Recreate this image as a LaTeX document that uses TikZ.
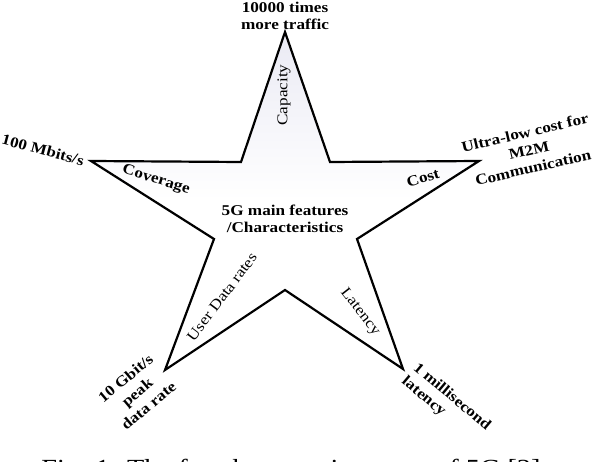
\documentclass[tikz,border=0pt]{standalone}
\usepackage{fontspec}
\setmainfont{Liberation Serif}[FakeStretch=1.15]
\begin{document}
\begin{tikzpicture}[x=1bp,y=-1bp,
  lbl/.style={font=\fontsize{15}{17}\selectfont\bfseries, inner sep=0pt, align=center},
  lblr/.style={font=\fontsize{15}{17}\selectfont, inner sep=0pt, align=center},
  starline/.style={line width=2.2bp, line join=miter, draw=black,
    top color={rgb,255:red,234;green,234;blue,244}, bottom color=white, middle color=white}]
\useasboundingbox (0,0) rectangle (598,462);
\clip (0,0) rectangle (598,462);
% star vertices
\coordinate (T)  at (285,32);
\coordinate (TR) at (330,162);
\coordinate (R)  at (479,161);
\coordinate (RI) at (357,239);
\coordinate (BR) at (403,369);
\coordinate (B)  at (285,290);
\coordinate (BL) at (165,370);
\coordinate (LI) at (214,239);
\coordinate (L)  at (91,161);
\coordinate (TL) at (241,162);
\draw[starline] (T) -- (TR) -- (R) -- (RI) -- (BR) -- (B) -- (BL) -- (LI) -- (L) -- (TL) -- cycle;
% inner labels
\node[lblr, rotate=90] (cap) at (284,95) {Capacity};
\node[lbl, rotate=-17] (cov) at (156,180) {Coverage};
\node[lbl, rotate=17] (cost) at (423,178) {Cost};
\node[lbl] (ctr) at (285,219) {5G main features\\/Characteristics};
\node[lblr, rotate=53] (udr) at (222,297) {User Data rates};
\node[lblr, rotate=-52] (lat) at (360,312) {Latency};
% outer labels
\node[lbl] (traffic) at (285,15.5) {10000 times\\more traffic};
\node[lbl, rotate=-15] (mbit) at (43,150) {100 Mbits/s};
\node[lbl, rotate=13, font=\fontsize{15}{18}\selectfont\bfseries] (m2m) at (529,150) {Ultra-low cost for\\M2M\\Communication};
\node[lbl, rotate=40, font=\fontsize{15}{18}\selectfont\bfseries] (gbit) at (137,392) {10 Gbit/s\\peak\\data rate};
\node[lbl, rotate=-40, align=left, font=\fontsize{15}{18}\selectfont\bfseries] (ms) at (446,404) {1 millisecond\\latency};
% caption
\node[inner sep=0pt, anchor=base, font=\fontsize{24.7}{28}\selectfont] (caption) at (291,476) {Fig. 1: The four key requirements of 5G [3]};
\end{tikzpicture}
\end{document}
